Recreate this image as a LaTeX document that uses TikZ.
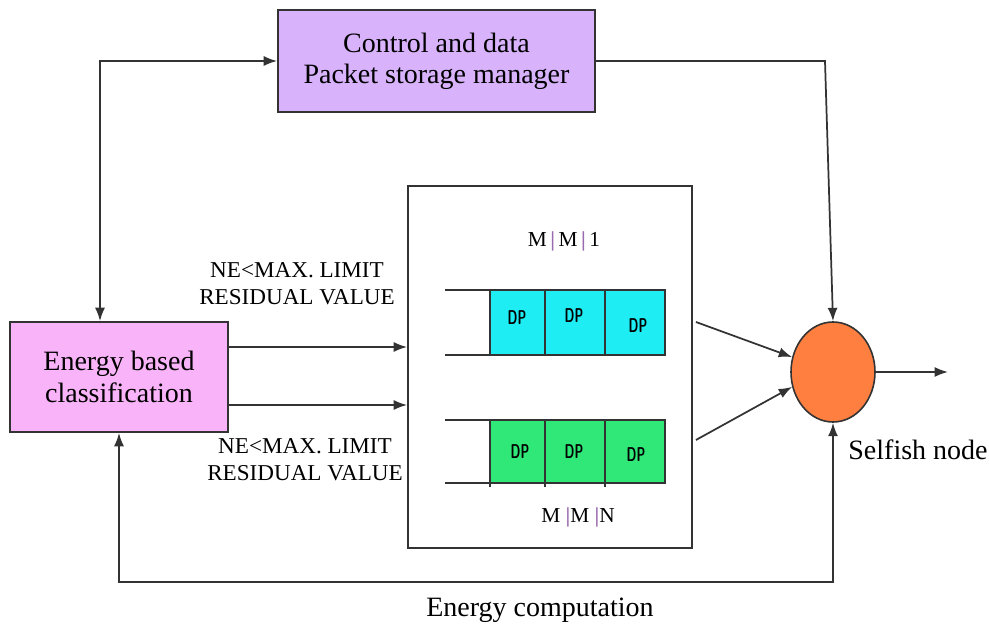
\documentclass[tikz,border=0pt]{standalone}
\usepackage{fontspec}
\setmainfont{Liberation Serif}
\usetikzlibrary{arrows.meta,shapes.geometric,calc}
\definecolor{ctrlfill}{HTML}{D8B2FA}
\definecolor{energyfill}{HTML}{F9B4F9}
\definecolor{cyanq}{HTML}{1EEEF4}
\definecolor{greenq}{HTML}{30E878}
\definecolor{orangen}{HTML}{FF7F40}
\definecolor{barpurple}{HTML}{9A6AAE}
\definecolor{linegray}{HTML}{333333}
\tikzset{
  box/.style={draw=linegray, line width=1.4pt, align=center, inner sep=0pt},
  conn/.style={draw=linegray, line width=1.3pt},
  arr/.style={conn, -{Latex[length=10pt,width=7.5pt]}},
  darr/.style={conn, {Latex[length=10pt,width=7.5pt]}-{Latex[length=10pt,width=7.5pt]}},
  qline/.style={draw=linegray, line width=1.3pt},
  dp/.style={font=\sffamily\bfseries\fontsize{15}{16}\selectfont, xscale=0.62, inner sep=0pt},
  lbl/.style={align=center, inner sep=0pt, xscale=1.02, font=\fontsize{17}{20.5}\selectfont},
  big/.style={inner sep=0pt, font=\fontsize{21}{24}\selectfont}
}
\newcommand{\vbar}{\textcolor{barpurple}{\textbf{|}}}
\begin{document}
\begin{tikzpicture}[x=0.75pt, y=-0.75pt]
\useasboundingbox (0,0) rectangle (989,627);

% main blocks
\node[box, fill=ctrlfill, minimum width=237.75pt, minimum height=76.5pt,
      font=\fontsize{21}{23.4}\selectfont] (ctrl) at (436.5,61)
      {Control and data\\Packet storage manager};
\node[box, fill=energyfill, minimum width=163.5pt, minimum height=82.5pt,
      font=\fontsize{21}{23.4}\selectfont] (energy) at (119,377)
      {Energy based\\classification};
\node[box, minimum width=213pt, minimum height=271.5pt] (queues) at (550,367) {};
\node[ellipse, draw=linegray, line width=1.2pt, fill=orangen,
      minimum width=63pt, minimum height=75pt, inner sep=0pt] (node) at (833,372) {};

% M|M|1 queue
\fill[cyanq] (490,290) rectangle (665,355);
\draw[qline] (445,290) -- (665,290) -- (665,355) -- (445,355);
\draw[qline] (490,290) -- (490,355);
\draw[qline] (545,290) -- (545,355);
\draw[qline] (605,290) -- (605,355);
\node[dp] (d1) at (517,318) {DP};
\node[dp] (d2) at (574,316) {DP};
\node[dp] (d3) at (638,326) {DP};

% M|M|N queue
\fill[greenq] (490,420) rectangle (665,483);
\draw[qline] (445,420) -- (665,420) -- (665,483) -- (445,483);
\draw[qline] (490,420) -- (490,487);
\draw[qline] (545,420) -- (545,487);
\draw[qline] (605,420) -- (605,487);
\node[dp] (d4) at (520,452) {DP};
\node[dp] (d5) at (574,452) {DP};
\node[dp] (d6) at (636,455) {DP};

\node[inner sep=0pt, font=\fontsize{16}{18}\selectfont] (mm1) at (564,241)
  {M\,\vbar\,M\,\vbar\,1};
\node[inner sep=0pt, font=\fontsize{16}{18}\selectfont] (mmn) at (578,517)
  {M \vbar M \vbar N};

% labels
\node[lbl] (lup) at (297,284) {NE<MAX. LIMIT\\RESIDUAL VALUE};
\node[lbl] (llow) at (305,460) {NE<MAX. LIMIT\\RESIDUAL VALUE};
\node[big] (self) at (918,450) {Selfish node};
\node[big] (ecomp) at (540,610) {Energy computation};

% connectors
\coordinate (c1) at (100,61);
\coordinate (c2) at (825,61);
\coordinate (c3) at (500,582);
\coordinate (out) at (948,372);
\draw[darr] (energy.north -| c1) |- (ctrl.west);
\draw[arr] (ctrl.east) -- (c2) -- (node.north);
\draw[arr] ($(energy.east)+(0,-30)$) -- ($(queues.west |- energy.east)+(0,-30)$);
\draw[arr] ($(energy.east)+(0,28)$) -- ($(queues.west |- energy.east)+(0,28)$);
\draw[arr] ($(queues.east)+(3,-45)$) -- (node.160);
\draw[arr] ($(queues.east)+(3,73)$) -- (node.200);
\draw[arr] (node.east) -- (out);
\draw[darr] (energy.south) |- (c3) -| (node.south);
\end{tikzpicture}
\end{document}
